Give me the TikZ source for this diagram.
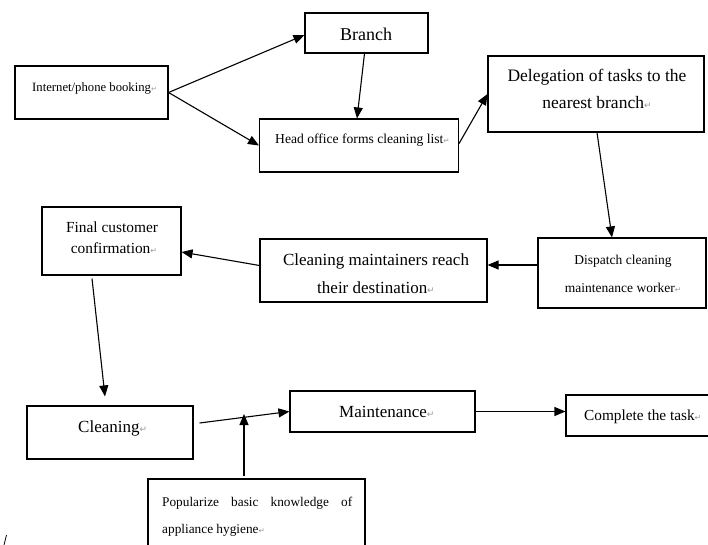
\documentclass[tikz,border=0pt]{standalone}
\usepackage{fontspec}
\setmainfont{Liberation Serif}
\newfontfamily\djv{DejaVu Sans}
\usetikzlibrary{arrows.meta}
\newcommand\retm[1][8]{{\djv\fontsize{#1}{#1}\selectfont\textcolor{black!40}{↵}}}
\newcommand\fs[2]{\fontsize{#1}{#2}\selectfont}
\begin{document}
\begin{tikzpicture}[x=1pt,y=-1pt,
  box/.style={draw, line width=1.1pt, rectangle, inner sep=0pt},
  txt/.style={inner sep=0pt, align=center},
  arr/.style={-{Triangle[length=11pt,width=9pt]}, line width=1.1pt}]
\useasboundingbox[fill=white] (0,0) rectangle (708,545);
% boxes
\node[box, minimum width=153pt, minimum height=53pt] (book) at (91.5,92.5) {};
\node[box, minimum width=123pt, minimum height=40pt] (branch) at (366.5,33) {};
\node[box, minimum width=199pt, minimum height=53pt] (head) at (359,145.5) {};
\node[box, minimum width=216pt, minimum height=76pt] (deleg) at (596,94) {};
\node[box, minimum width=168pt, minimum height=70pt] (disp) at (622,273) {};
\node[box, minimum width=227pt, minimum height=63pt] (reach) at (373.5,270.5) {};
\node[box, minimum width=139pt, minimum height=68pt] (final) at (111.5,241) {};
\node[box, minimum width=166pt, minimum height=53pt] (clean) at (110,432.5) {};
\node[box, minimum width=185pt, minimum height=41pt] (maint) at (382.5,411.5) {};
\node[box, minimum width=144pt, minimum height=41pt] (comp) at (638,415.5) {};
\node[box, minimum width=217pt, minimum height=74pt] (pop) at (256.5,516) {};
% texts
\node[txt, anchor=west, font=\fs{12.7}{15}] (bookT) at (32,88) {Internet/phone booking\retm[7]};
\node[txt, font=\fs{18}{21}] (branchT) at (366,34) {Branch};
\node[txt, anchor=west, font=\fs{13.6}{16}] (headT) at (275,140) {Head office forms cleaning list\retm[7.5]};
\node[txt, font=\fs{17.5}{27}] (delegT) at (597,88.5) {Delegation of tasks to the\\nearest branch\retm[9]};
\node[txt, font=\fs{13.5}{28}] (dispT) at (623,274) {Dispatch cleaning\\maintenance worker\retm[7.5]};
\node[txt, font=\fs{17}{28}] (reachT) at (376,274) {Cleaning maintainers reach\\their destination\retm[9]};
\node[txt, font=\fs{15.4}{21}] (finalT) at (112,237.5) {Final customer\\ \hspace*{4pt}confirmation\retm[8]};
\node[txt, anchor=west, font=\fs{17}{20}] (cleanT) at (78,428) {Cleaning\retm[9]};
\node[txt, anchor=west, font=\fs{17}{20}] (maintT) at (339,412) {Maintenance\retm[9]};
\node[txt, anchor=west, font=\fs{15.3}{17}] (compT) at (584,417) {Complete the task\retm[8]};
\node[txt, anchor=north west, text width=190pt, align=justify, font=\fs{13.3}{27}] (popT) at (162,497) {Popularize basic knowledge of\linebreak appliance hygiene\retm[7.5]};
% connectors
\draw[arr] (book.east) -- ([yshift=-2pt]branch.west);
\draw[arr] (book.east) -- (head.west);
\draw[arr] ([xshift=-2pt]branch.south) -- ([xshift=-2pt]head.north);
\draw[arr] ([yshift=2pt]head.east) -- (deleg.west);
\draw[arr] ([xshift=1pt]deleg.south) -- ([xshift=-10pt]disp.north);
\draw[arr] ([yshift=8pt]disp.west) -- ([yshift=8pt]disp.west -| reach.east);
\draw[arr] ([yshift=5pt]reach.west) -- ([yshift=-11pt]final.east);
\draw[arr] ([xshift=-19.5pt,yshift=-3pt]final.south) -- ([xshift=-5pt,yshift=9pt]clean.north);
\draw[arr] ([xshift=6pt,yshift=9.5pt]clean.east) -- (maint.west);
\coordinate (meet) at (244,414);
\draw[arr] ([xshift=-12.5pt,yshift=2pt]pop.north) -- (meet);
\draw[arr] (maint.east) -- (maint.east -| comp.west);
% stray mark at bottom left
\draw[line width=0.8pt] (4,545) -- (6.5,535);
\end{tikzpicture}
\end{document}
